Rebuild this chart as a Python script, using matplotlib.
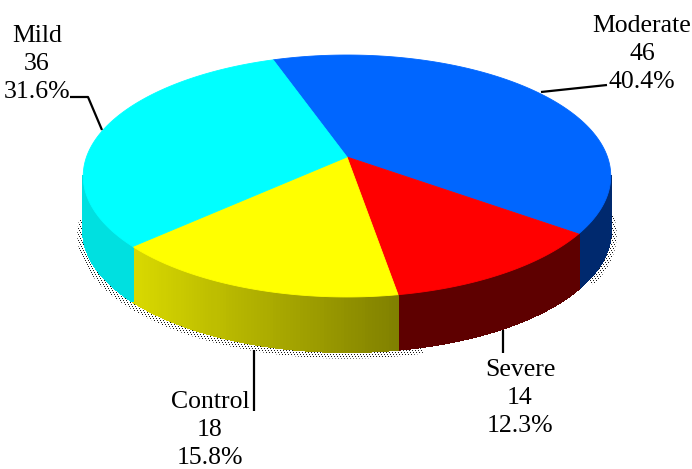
import numpy as np
import matplotlib
matplotlib.use("Agg")
import matplotlib.pyplot as plt
from matplotlib.patches import Polygon, PathPatch
from matplotlib.path import Path

# Data
groups = ["Moderate", "Severe", "Control", "Mild"]
counts = [46, 14, 18, 36]
percents = ["40.4%", "12.3%", "15.8%", "31.6%"]

top_colors = ["#0066ff", "#ff0000", "#ffff00", "#00ffff"]

# Pie geometry (pixels), tilted disc with a little perspective
cx, cy = 347, 157
a, b, k = 260.5, 118.0, 0.157
depth = 55
start = 109.0


def rim(theta, r=1.0):
    t = np.radians(theta)
    x, y = r * np.cos(t), r * np.sin(t)
    den = 1 + k * y
    return cx + a * x / den, cy - b * y / den


def side_color(i, x):
    if i == 0:
        return (0.0, 0.16, 0.43)
    if i == 1:
        return (0.37, 0.0, 0.0)
    if i == 2:
        g = np.interp(x, [135, 400], [0.85, 0.50])
        return (g, g, 0.0)
    return (0.0, 0.88, 0.88)


plt.rcParams["font.family"] = ["Liberation Serif", "DejaVu Serif"]
fig = plt.figure(figsize=(6.92, 4.69), dpi=100)
ax = fig.add_axes([0, 0, 1, 1])
ax.set_xlim(0, 692)
ax.set_ylim(469, 0)
ax.axis("off")

# slice boundaries, clockwise from the top
fracs = np.array(counts) / sum(counts)
edges = start - np.concatenate([[0], np.cumsum(fracs)]) * 360

# stippled shadow under the disc, skipped below the Severe slice
bands = []
for t0, t1 in [(-32, 0), (-178, -76)]:
    ts = np.linspace(t0, t1, 80)
    ox, oy = rim(ts, 1.022)
    ix, iy = rim(ts[::-1], 0.99)
    pts = np.column_stack([np.r_[ox, ix], np.r_[oy + depth + 3, iy + depth]])
    bands.append(Path(np.vstack([pts, pts[0]]), closed=True))
shadow_path = Path.make_compound_path(*bands)
yy, xx = np.mgrid[0:469, 0:692]
dots = ((xx + yy) % 3 == 0) & (yy % 2 == 0)
rgba = np.zeros((469, 692, 4))
rgba[..., :3] = 0.1
rgba[..., 3] = dots.astype(float)
img = ax.imshow(rgba, extent=(0, 692, 469, 0), interpolation="nearest", zorder=1, aspect="auto")
img.set_clip_path(PathPatch(shadow_path, transform=ax.transData))

# side wall, front half of the rim only
for i in range(len(groups)):
    lo, hi = max(edges[i + 1], -171), min(edges[i], -9)
    if lo < hi:
        ts = np.linspace(hi, lo, 90)
        xs, ys = rim(ts)
        for j in range(len(ts) - 1):
            q = [(xs[j], ys[j]), (xs[j + 1], ys[j + 1]),
                 (xs[j + 1], ys[j + 1] + depth), (xs[j], ys[j] + depth)]
            c = side_color(i, xs[j])
            ax.add_patch(Polygon(q, closed=True, fc=c, ec=c, lw=0.8, zorder=2, antialiased=False))

# top face
for i in range(len(groups)):
    ts = np.linspace(edges[i], edges[i + 1], 120)
    xs, ys = rim(ts)
    pts = np.vstack([[cx, cy], np.column_stack([xs, ys])])
    ax.add_patch(Polygon(pts, closed=True, fc=top_colors[i], ec=top_colors[i], lw=0.6, zorder=3))

# leader lines
leaders = [([541, 607], [92, 85]), ([503, 503], [330, 353]),
           ([254, 254], [350, 411]), ([70, 88, 102], [97, 97, 130])]
for lx, ly in leaders:
    ax.plot(lx, ly, color="black", lw=1.6, zorder=4, solid_capstyle="butt")

# labels
label_pos = [(642, 54), (520, 398), (210, 430), (37, 64)]
for name, n, pct, (tx, ty) in zip(groups, counts, percents, label_pos):
    ax.text(tx, ty, f"{name}\n{n}\n{pct}", ha="center", va="center", ma="center",
            fontsize=18.5, linespacing=1.36, color="black", zorder=5)

fig.savefig("out.png", dpi=100)
